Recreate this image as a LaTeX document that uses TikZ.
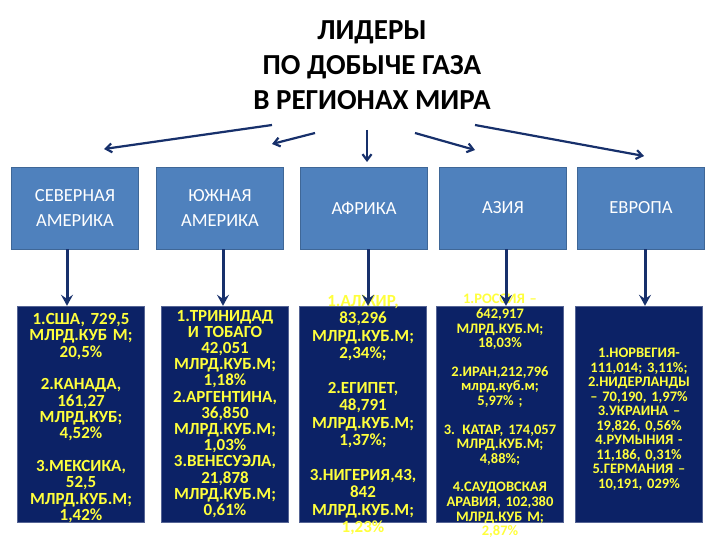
\documentclass[tikz,border=0pt]{standalone}
\usepackage{fontspec}
\setmainfont{Carlito}
\usetikzlibrary{arrows.meta,positioning}
\definecolor{topblue}{HTML}{4F81BD}
\definecolor{navy}{HTML}{0C2266}
\definecolor{arrownavy}{HTML}{17306B}
\definecolor{txtyellow}{HTML}{FFFF3C}
\begin{document}
\begin{tikzpicture}[x=1pt,y=-1pt]
\tikzstyle{region}=[rectangle, fill=topblue, draw=topblue!80!black, minimum width=127pt, minimum height=82pt, text=white, align=center, font=\fontsize{18.5}{25}\selectfont]
\tikzstyle{leader}=[rectangle, fill=navy, draw=navy!70!white, minimum width=127pt, minimum height=216pt]
\tikzstyle{leadtext}=[text=txtyellow, align=center, text width=127pt, inner sep=0pt]
\tikzstyle{connect}=[-{Stealth[length=11pt,width=12pt,inset=4pt]}, line width=3pt, draw=arrownavy]
\tikzstyle{fork}=[-{Straight Barb[length=6pt,width=9pt]}, line width=2.2pt, draw=arrownavy]
\useasboundingbox (0,0) rectangle (720,540);

  \node[font=\bfseries\fontsize{29}{35}\selectfont, align=center] (title) at (372,65)
    {ЛИДЕРЫ\\ПО ДОБЫЧЕ ГАЗА\\В РЕГИОНАХ МИРА};

  \node[region] (namerica) at (75,208)  {СЕВЕРНАЯ\\АМЕРИКА};
  \node[region] (samerica) at (220,208) {ЮЖНАЯ\\АМЕРИКА};
  \node[region] (africa)   at (364,208) {АФРИКА};
  \node[region] (asia)     at (503,208) {АЗИЯ};
  \node[region] (europe)   at (641,208) {ЕВРОПА};

  \node[leader] (usa)      at (81,414)  {};
  \node[leader] (trinidad) at (225,414) {};
  \node[leader] (algeria)  at (363,414) {};
  \node[leader] (russia)   at (500,414) {};
  \node[leader] (norway)   at (639,414) {};

  \node[leadtext, font=\bfseries\fontsize{17}{16.4}\selectfont] (usatext) at ([yshift=-4pt]usa.center)
    {1.США, 729,5\\МЛРД.КУБ М;\\20,5\%\\[16pt]2.КАНАДА,\\161,27\\МЛРД.КУБ;\\4,52\%\\[16pt]3.МЕКСИКА,\\52,5\\МЛРД.КУБ.М;\\1,42\%};
  \node[leadtext, font=\bfseries\fontsize{17}{16.2}\selectfont] (trinidadtext) at (trinidad.center)
    {1.ТРИНИДАД\\И ТОБАГО\\42,051\\МЛРД.КУБ.М;\\1,18\%\\2.АРГЕНТИНА,\\36,850\\МЛРД.КУБ.М;\\1,03\%\\3.ВЕНЕСУЭЛА,\\21,878\\МЛРД.КУБ.М;\\0,61\%};
  \node[leadtext, font=\bfseries\fontsize{17}{17.5}\selectfont] (algeriatext) at ([yshift=-1pt]algeria.center)
    {1.АЛЖИР,\\83,296\\МЛРД.КУБ.М;\\2,34\%;\\[17pt]2.ЕГИПЕТ,\\48,791\\МЛРД.КУБ.М;\\1,37\%;\\[17pt]3.НИГЕРИЯ,43,\\842\\МЛРД.КУБ.М;\\1,23\%};
  \node[leadtext, font=\bfseries\fontsize{14.5}{14.6}\selectfont] (russiatext) at ([yshift=-2pt]russia.center)
    {1.РОССИЯ –\\642,917\\МЛРД.КУБ.М;\\18,03\%\\[14pt]2.ИРАН,212,796\\млрд.куб.м;\\5,97\% ;\\[14pt]3. КАТАР, 174,057\\МЛРД.КУБ.М;\\4,88\%;\\[14pt]4.САУДОВСКАЯ\\АРАВИЯ, 102,380\\МЛРД.КУБ М;\\2,87\%};
  \node[leadtext, font=\bfseries\fontsize{14.5}{14.5}\selectfont] (norwaytext) at ([yshift=-5pt]norway.center)
    {1.НОРВЕГИЯ-\\111,014; 3,11\%;\\2.НИДЕРЛАНДЫ\\– 70,190, 1,97\%\\3.УКРАИНА –\\19,826, 0,56\%\\4.РУМЫНИЯ -\\11,186, 0,31\%\\5.ГЕРМАНИЯ –\\10,191, 029\%};

  % arrows from the title
  \coordinate (f1) at (272,125);
  \coordinate (f2) at (315,133);
  \coordinate (f3) at (367,130);
  \coordinate (f4) at (415,133);
  \coordinate (f5) at (475,125);
  \draw[fork] (f1) -- (104,149);
  \draw[fork] (f2) -- (272,144);
  \draw[fork] (f3) -- (367,162);
  \draw[fork] (f4) -- (475,150);
  \draw[fork] (f5) -- (644,156);

  \draw[connect] (namerica.south -| 67,0) -- (usa.north -| 67,0);
  \draw[connect] (samerica.south -| 223,0) -- (trinidad.north -| 223,0);
  \draw[connect] (africa.south -| 368,0) -- (algeria.north -| 368,0);
  \draw[connect] (asia.south -| 506,0) -- (russia.north -| 506,0);
  \draw[connect] (europe.south -| 645,0) -- (norway.north -| 645,0);
\end{tikzpicture}
\end{document}
